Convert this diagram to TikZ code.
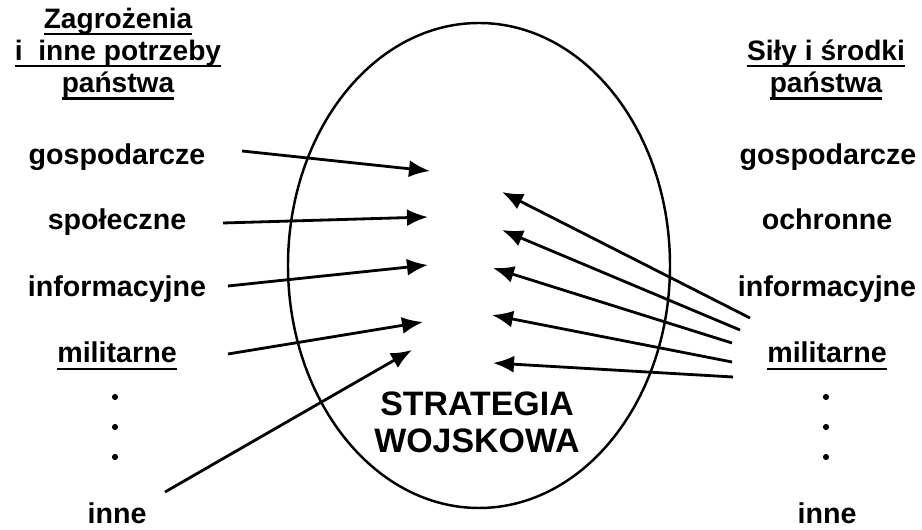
\documentclass[tikz,border=0pt]{standalone}
\usepackage{fontspec}
\setmainfont{Liberation Sans}
\usetikzlibrary{arrows.meta}
\newcommand{\undr}[1]{\setbox0\hbox{#1}\rlap{\rule[-0.24em]{\wd0}{0.08em}}\box0}

\begin{document}
\begin{tikzpicture}[
    head/.style={font=\bfseries\fontsize{16}{18.4}\selectfont, align=center, anchor=base},
    item/.style={font=\bfseries\fontsize{16.3}{19}\selectfont, anchor=base},
    title/.style={font=\bfseries\fontsize{19.3}{21.6}\selectfont, align=center, anchor=base},
    dotmark/.style={circle, fill, inner sep=0pt, minimum size=3.5pt},
    arrow/.style={-{Latex[length=4.2mm,width=3.4mm]}, line width=1.6pt}
]
\useasboundingbox (0,0) rectangle (18.44,10.6);
\draw[line width=1.4pt] (9.58,5.29) ellipse [x radius=3.82, y radius=4.85];
\node[head] (lhead) at (2.36,8.74) {\undr{Zagrożenia}\\\undr{i~~inne potrzeby}\\\undr{państwa}};
\node[head] (rhead) at (16.52,8.74) {\undr{Siły i środki}\\\undr{państwa}};
\node[item] (lgosp) at (2.34,7.30) {gospodarcze};
\node[item] (lspol) at (2.34,6.00) {społeczne};
\node[item] (linfo) at (2.34,4.66) {informacyjne};
\node[item] (lmil) at (2.34,3.34) {\undr{militarne}};
\node[item] (linne) at (2.34,0.12) {inne};
\node[item] (rgosp) at (16.56,7.30) {gospodarcze};
\node[item] (roch) at (16.54,6.00) {ochronne};
\node[item] (rinfo) at (16.54,4.66) {informacyjne};
\node[item] (rmil) at (16.54,3.34) {\undr{militarne}};
\node[item] (rinne) at (16.54,0.12) {inne};
\foreach \y [count=\i] in {2.66,2.06,1.46} {
    \node[dotmark] (ldot\i) at (2.30,\y) {};
    \node[dotmark] (rdot\i) at (16.52,\y) {};
}
\node[title] (strat) at (9.54,1.54) {STRATEGIA\\WOJSKOWA};
% threats and needs
\coordinate (ls1) at (4.84,7.58);
\coordinate (ls2) at (4.46,6.14);
\coordinate (ls3) at (4.56,4.88);
\coordinate (ls4) at (4.56,3.52);
\coordinate (ls5) at (3.30,0.76);
\coordinate (lt1) at (8.60,7.18);
\coordinate (lt2) at (8.56,6.26);
\coordinate (lt3) at (8.56,5.30);
\coordinate (lt4) at (8.46,4.16);
\coordinate (lt5) at (8.24,3.60);
% forces and means
\coordinate (rs1) at (15.00,4.24);
\coordinate (rs2) at (14.80,4.00);
\coordinate (rs3) at (14.64,3.74);
\coordinate (rs4) at (14.64,3.36);
\coordinate (rs5) at (14.66,3.06);
\coordinate (rt1) at (10.04,6.76);
\coordinate (rt2) at (10.04,6.00);
\coordinate (rt3) at (9.86,5.24);
\coordinate (rt4) at (9.84,4.30);
\coordinate (rt5) at (9.86,3.34);
\draw[arrow] (ls1) -- (lt1);
\draw[arrow] (ls2) -- (lt2);
\draw[arrow] (ls3) -- (lt3);
\draw[arrow] (ls4) -- (lt4);
\draw[arrow] (ls5) -- (lt5);
\draw[arrow] (rs1) -- (rt1);
\draw[arrow] (rs2) -- (rt2);
\draw[arrow] (rs3) -- (rt3);
\draw[arrow] (rs4) -- (rt4);
\draw[arrow] (rs5) -- (rt5);
\end{tikzpicture}
\end{document}
